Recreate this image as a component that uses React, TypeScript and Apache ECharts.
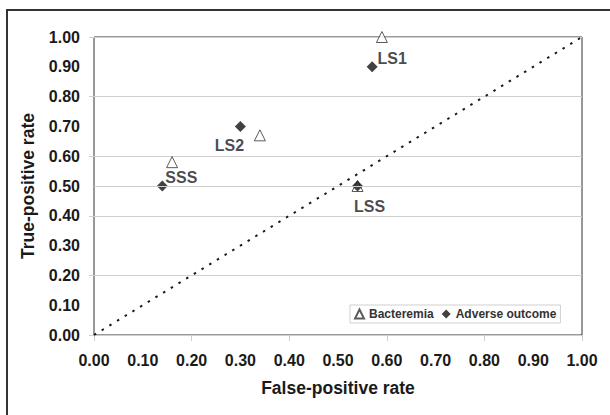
import React, { useEffect, useRef } from "react";
import * as echarts from "echarts";

// ---- data ----
const pointLabels = ["LS1", "LS2", "SSS", "LSS"];
const bacteremiaFPR = [0.59, 0.34, 0.16, 0.54];
const bacteremiaTPR = [1.0, 0.67, 0.58, 0.5];
const adverseFPR = [0.57, 0.3, 0.14, 0.54];
const adverseTPR = [0.9, 0.7, 0.5, 0.5];
const diagonal = [
  [0, 0],
  [1, 1],
];
const extraGridLevels = [0.5];
const seriesNames = ["Bacteremia", "Adverse outcome"];

// ---- label placement (style) ----
const labelOffsets: [number, number][] = [
  [20, -8],
  [-11, 19],
  [19, -9],
  [12, 20],
];

const FONT = "Liberation Sans";
const INK = "#1a1a1a";

export default function App() {
  const ref = useRef<HTMLDivElement>(null);

  useEffect(() => {
    if (!ref.current) return;
    const chart = echarts.init(ref.current, undefined, { renderer: "svg" });

    const tickFmt = (v: number) => v.toFixed(2);

    chart.setOption({
      animation: false,
      backgroundColor: "#fff",
      textStyle: { fontFamily: FONT },
      graphic: [
        {
          type: "rect",
          shape: { x: 7, y: 10, width: 640, height: 440 },
          style: { fill: "none", stroke: "#333", lineWidth: 2 },
          z: 100,
          silent: true,
        },
      ],
      grid: {
        left: 94,
        right: 28,
        top: 37,
        bottom: 80,
        show: true,
        borderColor: "#333",
        borderWidth: 1,
        backgroundColor: "transparent",
      },
      legend: {
        data: seriesNames,
        left: 350,
        top: 305,
        orient: "horizontal",
        padding: [3, 4],
        itemGap: 8,
        itemWidth: 9,
        itemHeight: 9,
        borderColor: "#cfcfcf",
        borderWidth: 1,
        textStyle: {
          fontFamily: FONT,
          fontWeight: "bold",
          fontSize: 12,
          color: "#333",
        },
      },
      xAxis: [
        {
          type: "value",
          min: 0,
          max: 1,
          interval: 0.1,
          name: "False-positive rate",
          nameLocation: "middle",
          nameGap: 44,
          nameTextStyle: {
            fontFamily: FONT,
            fontWeight: "bold",
            fontSize: 17.5,
            color: INK,
          },
          axisLine: { show: false },
          axisTick: { show: false },
          splitLine: { show: false },
          axisLabel: {
            formatter: tickFmt,
            margin: 17,
            fontFamily: FONT,
            fontWeight: "bold",
            fontSize: 16,
            color: INK,
          },
        },
        {
          type: "value",
          position: "bottom",
          offset: 0,
          min: 0,
          max: 1,
          interval: 0.2,
          axisLine: { show: false },
          axisLabel: { show: false },
          splitLine: { show: false },
          axisTick: {
            show: true,
            length: 6,
            lineStyle: { color: "#cfcfcf", width: 1 },
          },
        },
      ],
      yAxis: [
        {
          type: "value",
          min: 0,
          max: 1,
          interval: 0.1,
          name: "True-positive rate",
          nameLocation: "middle",
          nameGap: 57,
          nameTextStyle: {
            fontFamily: FONT,
            fontWeight: "bold",
            fontSize: 17.5,
            color: INK,
          },
          axisLine: { show: false },
          axisTick: { show: false },
          splitLine: { show: false },
          axisLabel: {
            formatter: tickFmt,
            margin: 14,
            fontFamily: FONT,
            fontWeight: "bold",
            fontSize: 16,
            color: INK,
          },
        },
        {
          type: "value",
          position: "left",
          offset: 0,
          min: 0,
          max: 1,
          interval: 0.2,
          axisLine: { show: false },
          axisLabel: { show: false },
          axisTick: {
            show: true,
            length: 5,
            lineStyle: { color: "#cfcfcf", width: 1 },
          },
          splitLine: {
            show: true,
            lineStyle: { color: "#cfcfcf", width: 1 },
          },
        },
      ],
      series: [
        {
          name: "diagonal",
          type: "line",
          data: diagonal,
          symbol: "none",
          silent: true,
          lineStyle: { color: "#1a1a1a", width: 2, type: [2.5, 6.5] },
          z: 2,
          markLine: {
            silent: true,
            symbol: "none",
            label: { show: false },
            lineStyle: { color: "#cfcfcf", width: 1, type: "solid" },
            data: extraGridLevels.map((v) => ({ yAxis: v })),
          },
        },
        {
          name: seriesNames[0],
          type: "scatter",
          symbol: "triangle",
          symbolSize: 11,
          itemStyle: { color: "#fff", borderColor: "#333", borderWidth: 1 },
          data: bacteremiaFPR.map((x, i) => [x, bacteremiaTPR[i]]),
          z: 3,
        },
        {
          name: seriesNames[1],
          type: "scatter",
          symbol: "diamond",
          symbolSize: 11,
          itemStyle: { color: "#111" },
          data: adverseFPR.map((x, i) => ({
            value: [x, adverseTPR[i]],
            label: {
              show: true,
              formatter: pointLabels[i],
              position: "inside",
              offset: labelOffsets[i],
              fontFamily: FONT,
              fontWeight: "bold",
              fontSize: 16,
              color: INK,
            },
          })),
          z: 4,
        },
      ],
    });

    return () => chart.dispose();
  }, []);

  return (
    <div
      ref={ref}
      style={{
        position: "fixed",
        left: 0,
        top: 0,
        width: 610,
        height: 415,
        background: "#fff",
      }}
    />
  );
}
